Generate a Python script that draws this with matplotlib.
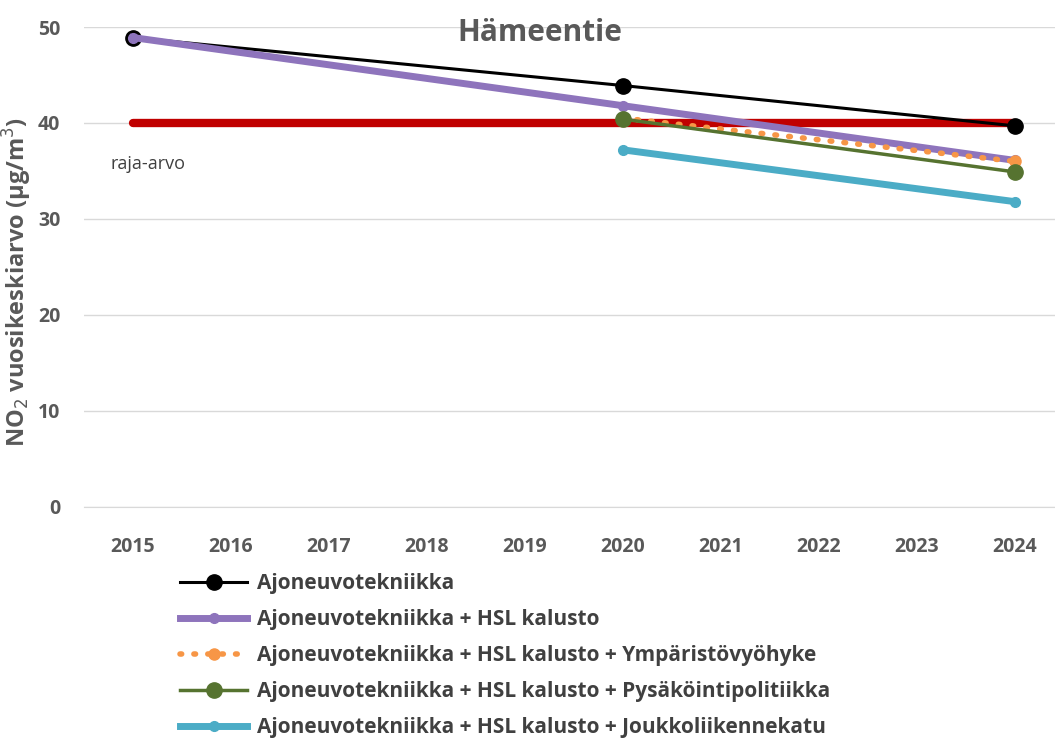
import numpy as np
import matplotlib.pyplot as plt

# data
vuodet = list(range(2015, 2025))
raja_vuodet = [2015, 2024]
raja_arvo = [40, 40]

v_ajon = [2015, 2020, 2024]
ajon = [48.9, 43.9, 39.7]
v_hsl = [2015, 2020, 2024]
hsl = [48.9, 41.8, 36.1]
v_ymp = [2020, 2024]
ymp = [40.5, 36.0]
v_pys = [2020, 2024]
pys = [40.4, 34.9]
v_jouk = [2020, 2024]
jouk = [37.2, 31.8]

nimet = ['Ajoneuvotekniikka',
         'Ajoneuvotekniikka + HSL kalusto',
         'Ajoneuvotekniikka + HSL kalusto + Ympäristövyöhyke',
         'Ajoneuvotekniikka + HSL kalusto + Pysäköintipolitiikka',
         'Ajoneuvotekniikka + HSL kalusto + Joukkoliikennekatu']

harmaa = '#595959'
plt.rcParams['font.family'] = ['Open Sans', 'DejaVu Sans']

fig = plt.figure(figsize=(10.55, 7.4), dpi=100)
ax = fig.add_axes([0.0796, 0.315, 0.929, 0.6485])

ax.plot(raja_vuodet, raja_arvo, color='#C00000', lw=6, solid_capstyle='round', zorder=2)
l1, = ax.plot(v_ajon, ajon, color='black', lw=2.2, marker='o', ms=11, zorder=3)
l2, = ax.plot(v_hsl, hsl, color='#8E74BC', lw=5, marker='o', ms=7, zorder=4)
l3, = ax.plot(v_ymp, ymp, color='#F79646', lw=4, ls=(0, (0.3, 2.2)), dash_capstyle='round',
              marker='o', ms=8, zorder=5)
l4, = ax.plot(v_pys, pys, color='#567330', lw=2.5, marker='o', ms=11, zorder=6)
l5, = ax.plot(v_jouk, jouk, color='#4BACC6', lw=5, marker='o', ms=7, zorder=6)

ax.set_xlim(2014.5, 2024.5)
ax.set_ylim(0, 50)
ax.set_xticks(vuodet)
ax.set_yticks(range(0, 51, 10))
ax.tick_params(length=0, labelsize=14, labelcolor=harmaa)
ax.tick_params(axis='x', pad=22)
ax.tick_params(axis='y', pad=17)
for t in ax.get_xticklabels() + ax.get_yticklabels():
    t.set_fontweight('bold')
ax.grid(axis='y', color='#d9d9d9', lw=1)
ax.set_axisbelow(True)
for s in ['top', 'right', 'left']:
    ax.spines[s].set_visible(False)
ax.spines['bottom'].set_color('#d9d9d9')

ax.set_ylabel(r'NO$_2$ vuosikeskiarvo (µg/m$^3$)', fontsize=17, color=harmaa,
              fontweight='bold')
ax.yaxis.set_label_coords(-0.051, 0.469)
ax.text(2019.15, 49.4, 'Hämeentie', ha='center', va='center',
        fontsize=21.5, fontweight='bold', color=harmaa)
ax.text(2014.77, 35.7, 'raja-arvo', fontsize=13, color='#404040', ha='left', va='center')

fig.legend([l1, l2, l3, l4, l5], nimet, loc='upper left',
           bbox_to_anchor=(0.163, 0.237), frameon=False,
           labelcolor='#404040', handlelength=3.2, handletextpad=0.5,
           labelspacing=0.72, borderaxespad=0, prop={'weight': 'bold', 'size': 15})

fig.savefig('out.png', dpi=100)
